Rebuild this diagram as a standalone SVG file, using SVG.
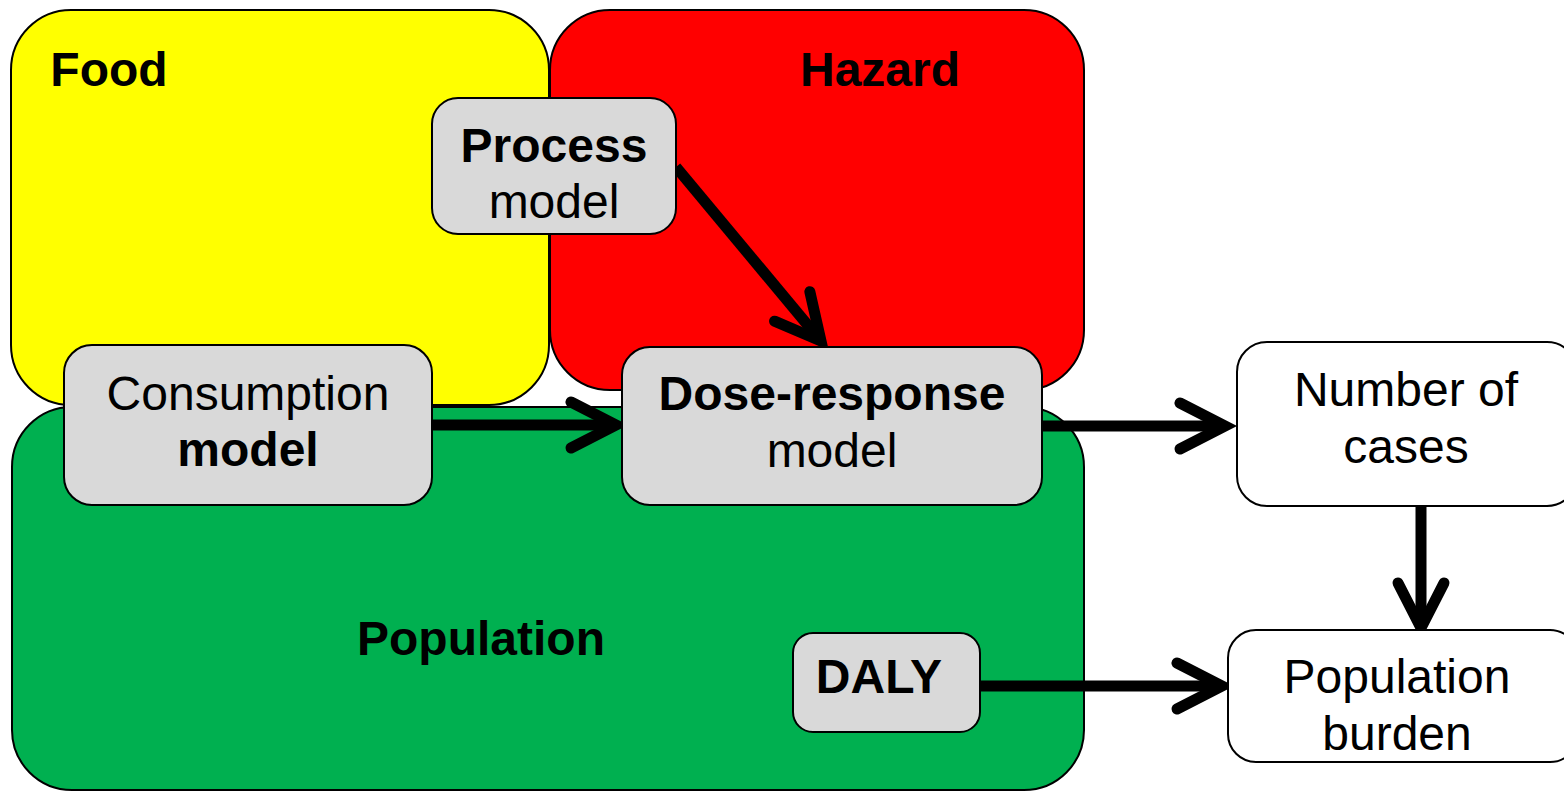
<svg xmlns="http://www.w3.org/2000/svg" width="1564" height="792" viewBox="0 0 1564 792">
  <style>
    .region { stroke: #000; stroke-width: 2; }
    .box { fill: #D9D9D9; stroke: #000; stroke-width: 2; }
    .outbox { fill: #FFFFFF; stroke: #000; stroke-width: 2; }
    text { font-family: "Liberation Sans", Arial, sans-serif; font-size: 48px; fill: #000; text-anchor: middle; }
    .b { font-weight: bold; }
    .conn { fill: none; stroke: #000; stroke-width: 11; marker-end: url(#chev); }
  </style>
  <defs>
    <marker id="chev" markerUnits="userSpaceOnUse" markerWidth="80" markerHeight="80" viewBox="-60 -40 80 80" refX="0" refY="0" orient="auto" overflow="visible">
      <path d="M -45 -23 L 0 0 L -45 23" fill="none" stroke="#000" stroke-width="11" stroke-linecap="round" stroke-linejoin="miter"/>
    </marker>
  </defs>

  <!-- domain regions -->
  <g id="food">
    <rect class="region" x="11" y="10" width="538" height="395" rx="60" fill="#FFFF00"/>
    <text class="b" x="109" y="86">Food</text>
  </g>
  <g id="hazard">
    <rect class="region" x="550" y="10" width="534" height="380" rx="60" fill="#FF0000"/>
    <text class="b" x="880" y="86">Hazard</text>
  </g>
  <g id="population">
    <rect class="region" x="12" y="407" width="1072" height="383" rx="60" fill="#00B050"/>
    <text class="b" x="481" y="655">Population</text>
  </g>

  <!-- connectors -->
  <g id="connectors">
    <line class="conn" x1="432" y1="425" x2="616" y2="425"/>
    <line class="conn" x1="676" y1="167" x2="821" y2="341"/>
    <line class="conn" x1="1042" y1="426" x2="1225" y2="426"/>
    <line class="conn" x1="1421" y1="506" x2="1421" y2="628"/>
    <line class="conn" x1="980" y1="686" x2="1222" y2="686"/>
  </g>

  <!-- model nodes -->
  <g id="process-model">
    <rect class="box" x="432" y="98" width="244" height="136" rx="26"/>
    <text class="b" x="554" y="162">Process</text>
    <text x="554" y="218">model</text>
  </g>
  <g id="consumption-model">
    <rect class="box" x="64" y="345" width="368" height="160" rx="28"/>
    <text x="248" y="410">Consumption</text>
    <text class="b" x="248" y="466">model</text>
  </g>
  <g id="dose-response-model">
    <rect class="box" x="622" y="347" width="420" height="158" rx="28"/>
    <text class="b" x="832" y="410">Dose-response</text>
    <text x="832" y="467">model</text>
  </g>
  <g id="daly">
    <rect class="box" x="793" y="633" width="187" height="99" rx="20"/>
    <text class="b" x="879" y="693">DALY</text>
  </g>

  <!-- outcome nodes -->
  <g id="number-of-cases">
    <rect class="outbox" x="1237" y="342" width="340" height="164" rx="30"/>
    <text x="1406" y="406">Number of</text>
    <text x="1406" y="463">cases</text>
  </g>
  <g id="population-burden">
    <rect class="outbox" x="1228" y="630" width="350" height="132" rx="28"/>
    <text x="1397" y="693">Population</text>
    <text x="1397" y="750">burden</text>
  </g>
</svg>
